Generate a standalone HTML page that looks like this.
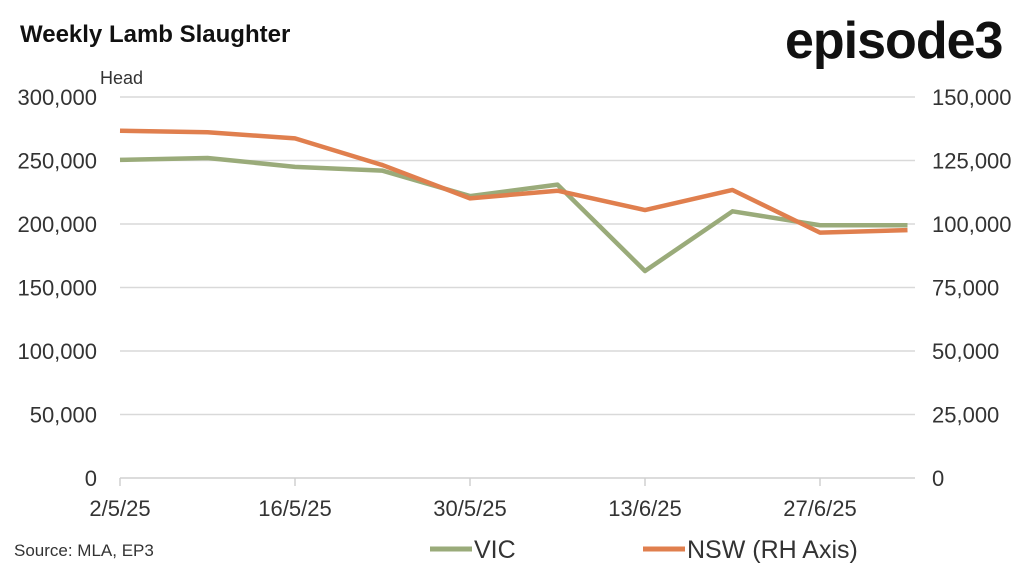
<!DOCTYPE html>
<html><head><meta charset="utf-8"><style>
body{margin:0;background:#fff;width:1024px;height:568px;overflow:hidden;font-family:"Liberation Sans",sans-serif}
svg text{font-family:"Liberation Sans",sans-serif;fill:#333}
</style></head><body>
<svg id="c" width="1024" height="568">
<text x="20" y="42" font-size="24" font-weight="bold" style="fill:#111">Weekly Lamb Slaughter</text>
<text x="785" y="58" font-size="52" font-weight="bold" letter-spacing="-1" style="fill:#111">episode3</text>
<text x="100" y="84" font-size="18">Head</text>
<g id="grid"></g><g id="axes"></g><g id="lines"></g>
<text x="14" y="556" font-size="17">Source: MLA, EP3</text>
<g><line x1="430" y1="549" x2="472" y2="549" stroke="#9aab7a" stroke-width="5"/><text x="474" y="558" font-size="25">VIC</text></g>
<g><line x1="643" y1="549" x2="685" y2="549" stroke="#e07f4e" stroke-width="5"/><text x="687" y="558" font-size="25">NSW (RH Axis)</text></g>
</svg>
<script>
const dates=["2/5/25","9/5/25","16/5/25","23/5/25","30/5/25","6/6/25","13/6/25","20/6/25","27/6/25","4/7/25"];
const vic=[250500,252000,245000,242000,222000,231000,163000,210000,199000,199000];
const nsw=[136700,136100,133700,123200,110100,113100,105500,113400,96600,97600];
const leftTicks=[0,50000,100000,150000,200000,250000,300000];
const rightTicks=[0,25000,50000,75000,100000,125000,150000];
const xLabels=["2/5/25","16/5/25","30/5/25","13/6/25","27/6/25"];
const ns="http://www.w3.org/2000/svg";
const x0=120,step=87.5,y0=478,y1=97;
const X=i=>x0+i*step;
const YL=v=>y0-(v/300000)*(y0-y1);
const YR=v=>y0-(v/150000)*(y0-y1);
function mk(t,a,p){const e=document.createElementNS(ns,t);for(const k in a)e.setAttribute(k,a[k]);p.appendChild(e);return e;}
const g=document.getElementById('grid'),ax=document.getElementById('axes'),ln=document.getElementById('lines');
leftTicks.forEach((v,i)=>{
 const l=mk('line',{x1:x0,x2:915,y1:YL(v),y2:YL(v),stroke:i?'#d9d9d9':'#d0d0d0','stroke-width':1.5},g);
 
 
 const t=mk('text',{x:97,y:YL(v)+8,'font-size':22,'text-anchor':'end'},ax);t.textContent=v.toLocaleString('en-US');
 
 
});
rightTicks.forEach(v=>{
 const t=mk('text',{x:932,y:YR(v)+8,'font-size':22},ax);t.textContent=v.toLocaleString('en-US');
 
 
});
xLabels.forEach(s=>{
 const i=dates.indexOf(s);
 const tk=mk('line',{x1:X(i),x2:X(i),y1:y0,y2:y0+8,stroke:'#d0d0d0','stroke-width':1.5},ax);
 
 
 const t=mk('text',{x:X(i),y:y0+38,'font-size':22,'text-anchor':'middle'},ax);t.textContent=s;
 
 
});
const pv=mk('polyline',{points:vic.map((v,i)=>X(i)+','+YL(v)).join(' '),fill:'none',stroke:'#9aab7a','stroke-width':4.5,'stroke-linejoin':'round'},ln);


const pn=mk('polyline',{points:nsw.map((v,i)=>X(i)+','+YR(v)).join(' '),fill:'none',stroke:'#e07f4e','stroke-width':4.5,'stroke-linejoin':'round'},ln);


</script>
</body></html>
